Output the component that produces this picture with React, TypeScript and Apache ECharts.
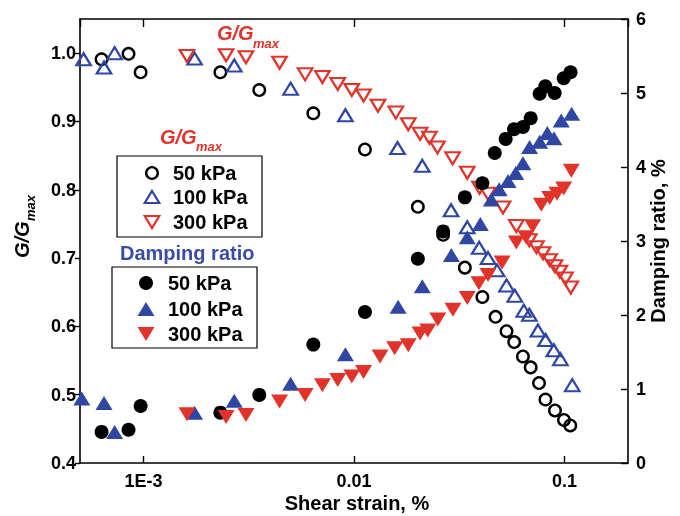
import React, { useEffect, useRef } from 'react';
import * as echarts from 'echarts';

// ---------- data ----------
const strainG50 = [6.33e-4, 8.5e-4, 9.7e-4, 2.32e-3, 3.55e-3, 6.41e-3, 0.01127, 0.0201, 0.0265, 0.0336, 0.0407, 0.047, 0.053, 0.0576, 0.0634, 0.069, 0.0756, 0.0811, 0.090, 0.0993, 0.1064];
const gG50 = [0.991, 0.999, 0.972, 0.972, 0.946, 0.912, 0.859, 0.775, 0.734, 0.686, 0.643, 0.614, 0.593, 0.577, 0.556, 0.540, 0.517, 0.493, 0.477, 0.463, 0.455];

const strainG100 = [5.2e-4, 6.5e-4, 7.3e-4, 1.75e-3, 2.7e-3, 5.0e-3, 9.1e-3, 0.0161, 0.0211, 0.0289, 0.0345, 0.0393, 0.0433, 0.0478, 0.053, 0.058, 0.064, 0.068, 0.0747, 0.0812, 0.0889, 0.0955, 0.1087];
const gG100 = [0.991, 0.979, 1.0, 0.992, 0.982, 0.948, 0.909, 0.861, 0.835, 0.770, 0.745, 0.715, 0.700, 0.682, 0.660, 0.645, 0.623, 0.617, 0.594, 0.580, 0.565, 0.552, 0.514];

const strainG300 = [1.61e-3, 2.47e-3, 3.07e-3, 4.43e-3, 5.86e-3, 7.08e-3, 8.37e-3, 9.76e-3, 0.0111, 0.0130, 0.0158, 0.0181, 0.0206, 0.0228, 0.0249, 0.0294, 0.0345, 0.0395, 0.0433, 0.051, 0.059, 0.068, 0.0735, 0.079, 0.085, 0.090, 0.095, 0.101, 0.107];
const gG300 = [0.996, 0.997, 0.994, 0.986, 0.969, 0.965, 0.955, 0.946, 0.938, 0.923, 0.913, 0.896, 0.882, 0.876, 0.862, 0.846, 0.825, 0.803, 0.794, 0.774, 0.747, 0.726, 0.716, 0.707, 0.697, 0.688, 0.680, 0.670, 0.657];

const strainD50 = [6.33e-4, 8.5e-4, 9.7e-4, 2.32e-3, 3.55e-3, 6.41e-3, 0.01127, 0.0201, 0.0265, 0.0336, 0.0407, 0.0466, 0.0525, 0.0575, 0.0634, 0.069, 0.0761, 0.081, 0.0897, 0.099, 0.1067];
const dD50 = [0.42, 0.45, 0.77, 0.68, 0.92, 1.60, 2.04, 2.76, 3.13, 3.59, 3.78, 4.19, 4.38, 4.51, 4.54, 4.66, 4.99, 5.09, 5.00, 5.20, 5.28];

const strainD100 = [5.1e-4, 6.5e-4, 7.3e-4, 1.75e-3, 2.7e-3, 5.0e-3, 9.1e-3, 0.0162, 0.0211, 0.029, 0.0345, 0.0398, 0.0449, 0.0489, 0.0539, 0.0586, 0.0634, 0.0682, 0.0762, 0.0828, 0.089, 0.0964, 0.108];
const dD100 = [0.87, 0.81, 0.42, 0.68, 0.84, 1.07, 1.47, 2.11, 2.39, 2.81, 3.05, 3.23, 3.56, 3.70, 3.81, 3.92, 4.05, 4.27, 4.34, 4.46, 4.39, 4.63, 4.72];

const strainD300 = [1.61e-3, 2.47e-3, 3.07e-3, 4.43e-3, 5.86e-3, 7.08e-3, 8.37e-3, 9.76e-3, 0.0111, 0.0133, 0.0156, 0.0181, 0.0206, 0.0224, 0.025, 0.0295, 0.0345, 0.0392, 0.0433, 0.0505, 0.059, 0.0655, 0.0705, 0.0775, 0.085, 0.092, 0.099, 0.1076];
const dD300 = [0.66, 0.62, 0.65, 0.83, 0.92, 1.05, 1.12, 1.17, 1.23, 1.44, 1.55, 1.59, 1.75, 1.79, 1.94, 2.07, 2.23, 2.43, 2.54, 2.71, 2.98, 3.05, 3.20, 3.49, 3.58, 3.64, 3.71, 3.95];

const xTickLabels: Record<string, string> = { '-3': '1E-3', '-2': '0.01', '-1': '0.1' };
const gTickValues = [0.4, 0.5, 0.6, 0.7, 0.8, 0.9, 1.0];
const legendLabels = ['50 kPa', '100 kPa', '300 kPa'];

// ---------- styles ----------
const RED = '#e2332a';
const BLUE = '#2f47a3';
const FONT = '"Liberation Sans", Arial, sans-serif';

const zip = (xs: number[], ys: number[]) => xs.map((x, i) => [x, ys[i]]);

const triPoints = (cx: number, cy: number, w: number, h: number, down: boolean) =>
  down
    ? [[cx - w / 2, cy - h / 2], [cx + w / 2, cy - h / 2], [cx, cy + h / 2]]
    : [[cx, cy - h / 2], [cx + w / 2, cy + h / 2], [cx - w / 2, cy + h / 2]];

export default function App() {
  const ref = useRef<HTMLDivElement>(null);
  useEffect(() => {
    if (!ref.current) return;
    const chart = echarts.init(ref.current, null, { renderer: 'svg' });
    const hollow = (color: string, w: number) => ({ color: 'rgba(0,0,0,0)', borderColor: color, borderWidth: w, opacity: 1 });
    const filled = (color: string) => ({ color, opacity: 1 });
    const txt = (text: string, x: number, y: number, size: number, fill: string, italic = false, extra: any = {}) => ({
      type: 'text', x, y, silent: true,
      style: { text, fill, font: `${italic ? 'italic ' : ''}bold ${size}px ${FONT}`, verticalAlign: 'middle', align: 'left', ...extra },
    });
    const xAxisBase = { type: 'log', logBase: 10, min: 5e-4, max: 0.2, splitLine: { show: false }, minorTick: { show: false } };
    const option: any = {
      animation: false,
      textStyle: { fontFamily: FONT },
      grid: { left: 80, right: 52, top: 19, bottom: 53, containLabel: false, outerBoundsMode: 'none' },
      xAxis: [
        {
          ...xAxisBase,
          position: 'bottom',
          axisLine: { show: true, lineStyle: { color: '#000', width: 1.6 } },
          axisTick: { show: true, inside: true, length: 7, lineStyle: { color: '#000', width: 1.4 } },
          axisLabel: {
            show: true, margin: 9, color: '#000', fontSize: 18, fontWeight: 'bold', fontFamily: FONT,
            showMinLabel: false, showMaxLabel: false,
            formatter: (v: number) => {
              const l = Math.log10(v);
              const e = Math.round(l);
              return Math.abs(l - e) < 1e-6 ? (xTickLabels[String(e)] ?? '') : '';
            },
          },
        },
        {
          ...xAxisBase,
          position: 'top',
          axisLine: { show: true, lineStyle: { color: '#000', width: 1.6 } },
          axisTick: { show: true, inside: true, length: 8, lineStyle: { color: '#000', width: 1.4 } },
          axisLabel: { show: false },
        },
      ],
      yAxis: [
        {
          type: 'value', position: 'left', min: 0.4, max: 1.05, interval: 0.1,
          splitLine: { show: false },
          axisLine: { show: true, lineStyle: { color: '#000', width: 1.6 } },
          axisTick: { show: true, inside: false, length: 5, customValues: gTickValues, lineStyle: { color: '#000', width: 1.4 } },
          axisLabel: {
            margin: 4, color: '#000', fontSize: 18, fontWeight: 'bold', fontFamily: FONT,
            customValues: gTickValues, formatter: (v: number) => v.toFixed(1),
          },
        },
        {
          type: 'value', position: 'right', min: 0, max: 6, interval: 1,
          splitLine: { show: false },
          axisLine: { show: true, lineStyle: { color: '#000', width: 1.6 } },
          axisTick: { show: true, inside: true, length: 7, lineStyle: { color: '#000', width: 1.4 } },
          axisLabel: { margin: 8, color: '#000', fontSize: 18, fontWeight: 'bold', fontFamily: FONT },
        },
      ],
      series: [
        { name: 'G 50 kPa', type: 'scatter', yAxisIndex: 0, silent: true, data: zip(strainG50, gG50), symbol: 'circle', symbolSize: 11.5, itemStyle: hollow('#000', 2.4) },
        { name: 'G 100 kPa', type: 'scatter', yAxisIndex: 0, silent: true, data: zip(strainG100, gG100), symbol: 'triangle', symbolSize: [14.5, 12], itemStyle: hollow(BLUE, 2.2) },
        { name: 'G 300 kPa', type: 'scatter', yAxisIndex: 0, silent: true, data: zip(strainG300, gG300), symbol: 'triangle', symbolRotate: 180, symbolSize: [14.5, 12], itemStyle: hollow(RED, 2.2) },
        { name: 'D 50 kPa', type: 'scatter', yAxisIndex: 1, silent: true, data: zip(strainD50, dD50), symbol: 'circle', symbolSize: 14, itemStyle: filled('#000') },
        { name: 'D 100 kPa', type: 'scatter', yAxisIndex: 1, silent: true, data: zip(strainD100, dD100), symbol: 'triangle', symbolSize: [17, 14], itemStyle: filled(BLUE) },
        { name: 'D 300 kPa', type: 'scatter', yAxisIndex: 1, silent: true, data: zip(strainD300, dD300), symbol: 'triangle', symbolRotate: 180, symbolSize: [17, 14], itemStyle: filled(RED) },
      ],
      graphic: [
        // G/Gmax red labels
        txt('G/G', 217, 33, 20, RED, true),
        txt('max', 253, 43, 13, RED, true),
        txt('G/G', 160, 137, 20, RED, true),
        txt('max', 196, 146, 13, RED, true),
        // legend box 1
        { type: 'rect', silent: true, shape: { x: 117, y: 156, width: 145, height: 81 }, style: { fill: 'none', stroke: '#000', lineWidth: 1.2 } },
        { type: 'circle', silent: true, shape: { cx: 152, cy: 173, r: 5.8 }, style: { fill: 'none', stroke: '#000', lineWidth: 2.4 } },
        { type: 'polygon', silent: true, shape: { points: triPoints(152, 197, 14.5, 12, false) }, style: { fill: 'none', stroke: BLUE, lineWidth: 2.2 } },
        { type: 'polygon', silent: true, shape: { points: triPoints(152, 222, 14.5, 12, true) }, style: { fill: 'none', stroke: RED, lineWidth: 2.2 } },
        txt(legendLabels[0], 173, 173, 20, '#000'),
        txt(legendLabels[1], 173, 197, 20, '#000'),
        txt(legendLabels[2], 173, 222, 20, '#000'),
        // Damping ratio heading
        txt('Damping ratio', 120, 253, 20, '#3a4ca6'),
        // legend box 2
        { type: 'rect', silent: true, shape: { x: 112, y: 267, width: 145, height: 81 }, style: { fill: 'none', stroke: '#000', lineWidth: 1.2 } },
        { type: 'circle', silent: true, shape: { cx: 146, cy: 283, r: 7 }, style: { fill: '#000' } },
        { type: 'polygon', silent: true, shape: { points: triPoints(146, 309, 17, 14, false) }, style: { fill: BLUE } },
        { type: 'polygon', silent: true, shape: { points: triPoints(146, 334, 17, 14, true) }, style: { fill: RED } },
        txt(legendLabels[0], 168, 283, 20, '#000'),
        txt(legendLabels[1], 168, 309, 20, '#000'),
        txt(legendLabels[2], 168, 334, 20, '#000'),
        // axis titles
        txt('Shear strain, %', 357, 503, 20, '#000', false, { align: 'center' }),
        {
          type: 'group', x: 22, y: 258, rotation: Math.PI / 2, silent: true,
          children: [
            txt('G/G', 0, 0, 20, '#000', true),
            txt('max', 37, 8, 13, '#000', true),
          ],
        },
        {
          type: 'group', x: 658, y: 241, rotation: Math.PI / 2, silent: true,
          children: [txt('Damping ratio, %', 0, 0, 20, '#000', false, { align: 'center' })],
        },
      ],
    };
    chart.setOption(option);
    return () => chart.dispose();
  }, []);
  return <div ref={ref} style={{ position: 'fixed', left: 0, top: 0, width: 680, height: 516 }} />;
}
